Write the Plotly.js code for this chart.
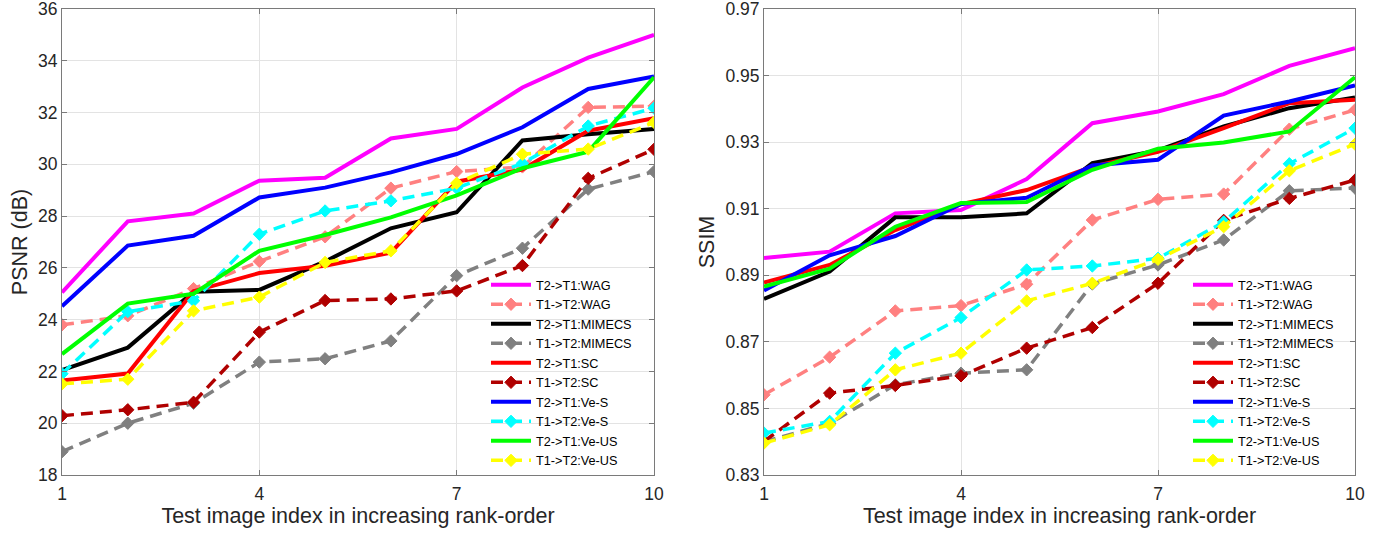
<!DOCTYPE html>
<html>
<head>
<meta charset="utf-8">
<script src="https://cdn.plot.ly/plotly-3.0.1.min.js"></script>
<style>html,body{margin:0;padding:0;background:#fff}#chart{width:1390px;height:535px}</style>
</head>
<body>
<div id="chart"></div>
<script>
// ---- data ----
const imageIndex = [1, 2, 3, 4, 5, 6, 7, 8, 9, 10];
const seriesNames = ["T2->T1:WAG", "T1->T2:WAG", "T2->T1:MIMECS", "T1->T2:MIMECS", "T2->T1:SC", "T1->T2:SC", "T2->T1:Ve-S", "T1->T2:Ve-S", "T2->T1:Ve-US", "T1->T2:Ve-US"];

// PSNR (dB)
const psnr_t2t1_wag    = [25.05, 27.80, 28.10, 29.37, 29.48, 31.00, 31.37, 32.97, 34.12, 35.00];
const psnr_t1t2_wag    = [23.80, 24.15, 25.20, 26.25, 27.20, 29.08, 29.72, 29.90, 32.20, 32.25];
const psnr_t2t1_mimecs = [22.05, 22.92, 25.08, 25.15, 26.25, 27.53, 28.15, 30.92, 31.16, 31.37];
const psnr_t1t2_mimecs = [18.90, 20.00, 20.77, 22.36, 22.49, 23.18, 25.70, 26.76, 29.04, 29.72];
const psnr_t2t1_sc     = [21.65, 21.92, 25.10, 25.80, 26.08, 26.59, 29.33, 29.80, 31.30, 31.78];
const psnr_t1t2_sc     = [20.29, 20.52, 20.81, 23.52, 24.74, 24.80, 25.11, 26.09, 29.46, 30.58];
const psnr_t2t1_ves    = [24.52, 26.86, 27.24, 28.72, 29.10, 29.69, 30.40, 31.43, 32.91, 33.39];
const psnr_t1t2_ves    = [21.91, 24.31, 24.73, 27.30, 28.20, 28.59, 29.08, 30.04, 31.48, 32.17];
const psnr_t2t1_veus   = [22.67, 24.62, 25.00, 26.66, 27.27, 27.95, 28.80, 29.85, 30.49, 33.36];
const psnr_t1t2_veus   = [21.52, 21.70, 24.34, 24.87, 26.21, 26.66, 29.27, 30.39, 30.59, 31.62];

// SSIM
const ssim_t2t1_wag    = [0.8952, 0.8971, 0.9086, 0.9096, 0.9189, 0.9357, 0.9392, 0.9444, 0.9529, 0.9582];
const ssim_t1t2_wag    = [0.8541, 0.8654, 0.8793, 0.8809, 0.8873, 0.9066, 0.9128, 0.9144, 0.9339, 0.9397];
const ssim_t2t1_mimecs = [0.8829, 0.8911, 0.9074, 0.9074, 0.9086, 0.9237, 0.9275, 0.9347, 0.9402, 0.9434];
const ssim_t1t2_mimecs = [0.8400, 0.8455, 0.8571, 0.8606, 0.8616, 0.8874, 0.8931, 0.9006, 0.9154, 0.9162];
const ssim_t2t1_sc     = [0.8878, 0.8931, 0.9036, 0.9114, 0.9156, 0.9226, 0.9271, 0.9342, 0.9417, 0.9427];
const ssim_t1t2_sc     = [0.8401, 0.8546, 0.8569, 0.8598, 0.8681, 0.8743, 0.8876, 0.9065, 0.9131, 0.9186];
const ssim_t2t1_ves    = [0.8854, 0.8960, 0.9018, 0.9114, 0.9133, 0.9230, 0.9247, 0.9380, 0.9422, 0.9470];
const ssim_t1t2_ves    = [0.8426, 0.8461, 0.8666, 0.8773, 0.8916, 0.8928, 0.8951, 0.9060, 0.9235, 0.9342];
const ssim_t2t1_veus   = [0.8866, 0.8920, 0.9046, 0.9117, 0.9120, 0.9217, 0.9280, 0.9299, 0.9332, 0.9495];
const ssim_t1t2_veus   = [0.8396, 0.8451, 0.8616, 0.8666, 0.8823, 0.8876, 0.8948, 0.9046, 0.9214, 0.9294];

const xTicks = [1, 4, 7, 10];
const psnrTicks = [18, 20, 22, 24, 26, 28, 30, 32, 34, 36];
const ssimTicks = [0.83, 0.85, 0.87, 0.89, 0.91, 0.93, 0.95, 0.97];
const ssimTickText = ["0.83", "0.85", "0.87", "0.89", "0.91", "0.93", "0.95", "0.97"];

// ---- styles ----
const colors = ["#ff00ff", "#ff8080", "#000000", "#808080", "#ff0000", "#b00000", "#0000ff", "#00ffff", "#00ff00", "#ffff00"];
const dashed = [false, true, false, true, false, true, false, true, false, true];

const psnrSeries = [psnr_t2t1_wag, psnr_t1t2_wag, psnr_t2t1_mimecs, psnr_t1t2_mimecs, psnr_t2t1_sc, psnr_t1t2_sc, psnr_t2t1_ves, psnr_t1t2_ves, psnr_t2t1_veus, psnr_t1t2_veus];
const ssimSeries = [ssim_t2t1_wag, ssim_t1t2_wag, ssim_t2t1_mimecs, ssim_t1t2_mimecs, ssim_t2t1_sc, ssim_t1t2_sc, ssim_t2t1_ves, ssim_t1t2_ves, ssim_t2t1_veus, ssim_t1t2_veus];

function makeTrace(y, i, xa, ya, leg) {
  const t = {
    x: imageIndex, y: y, name: seriesNames[i], xaxis: xa, yaxis: ya, legend: leg,
    type: "scatter",
    mode: dashed[i] ? "lines+markers" : "lines",
    line: { color: colors[i], width: dashed[i] ? 3.5 : 4, dash: dashed[i] ? "12px,7px" : "solid" },
    hoverinfo: "x+y+name"
  };
  if (dashed[i]) t.marker = { symbol: "diamond", size: 9.5, color: colors[i], line: { color: colors[i], width: 1 } };
  return t;
}

const traces = [];
psnrSeries.forEach((s, i) => traces.push(makeTrace(s, i, "x", "y", "legend")));
ssimSeries.forEach((s, i) => traces.push(makeTrace(s, i, "x2", "y2", "legend2")));

const W = 1390, H = 535;
const mL = 62, mR = 35, mT = 9, mB = 60;
const pw = W - mL - mR, ph = H - mT - mB;
const fx = px => (px - mL) / pw;
const fy = py => (H - mB - py) / ph;

const fontFam = "Liberation Sans, Arial, sans-serif";
const txt = "#262626";
const axCommon = {
  showline: true, mirror: "ticks", linecolor: "#7a7a7a", linewidth: 1,
  ticks: "inside", ticklen: 5, tickcolor: "#7a7a7a", tickwidth: 1,
  showgrid: true, gridcolor: "#e3e3e3", gridwidth: 1, zeroline: false,
  tickfont: { family: fontFam, size: 17.5, color: txt },
  ticklabeloverflow: "allow",
  automargin: false, fixedrange: true
};

const layout = {
  width: W, height: H,
  margin: { l: mL, r: mR, t: mT, b: mB },
  paper_bgcolor: "#ffffff", plot_bgcolor: "#ffffff",
  font: { family: fontFam, color: txt },
  showlegend: true,
  xaxis: Object.assign({}, axCommon, {
    domain: [0, fx(654)], range: [1, 10], tickvals: xTicks, anchor: "y", ticklabelstandoff: 3,
    title: { text: "Test image index in increasing rank-order", font: { family: fontFam, size: 21.5, color: txt }, standoff: 3 }
  }),
  yaxis: Object.assign({}, axCommon, {
    domain: [0, 1], range: [18, 36], tickvals: psnrTicks, anchor: "x",
    title: { text: "PSNR (dB)", font: { family: fontFam, size: 21.5, color: txt }, standoff: 4 }
  }),
  xaxis2: Object.assign({}, axCommon, {
    domain: [fx(764), 1], range: [1, 10], tickvals: xTicks, anchor: "y2", ticklabelstandoff: 3,
    title: { text: "Test image index in increasing rank-order", font: { family: fontFam, size: 21.5, color: txt }, standoff: 3 }
  }),
  yaxis2: Object.assign({}, axCommon, {
    domain: [0, 1], range: [0.83, 0.97], tickvals: ssimTicks, ticktext: ssimTickText, anchor: "x2",
    title: { text: "SSIM", font: { family: fontFam, size: 21.5, color: txt }, standoff: 4 }
  }),
  legend: {
    x: fx(486), y: fy(270), xanchor: "left", yanchor: "top", itemwidth: 40,
    bgcolor: "rgba(0,0,0,0)", borderwidth: 0,
    font: { family: fontFam, size: 12.7, color: "#000" }, tracegroupgap: 0
  },
  legend2: {
    x: fx(1188), y: fy(270), xanchor: "left", yanchor: "top", itemwidth: 40,
    bgcolor: "rgba(0,0,0,0)", borderwidth: 0,
    font: { family: fontFam, size: 12.7, color: "#000" }, tracegroupgap: 0
  }
};

Plotly.newPlot("chart", traces, layout, { displayModeBar: false, staticPlot: true });
</script>
</body>
</html>
